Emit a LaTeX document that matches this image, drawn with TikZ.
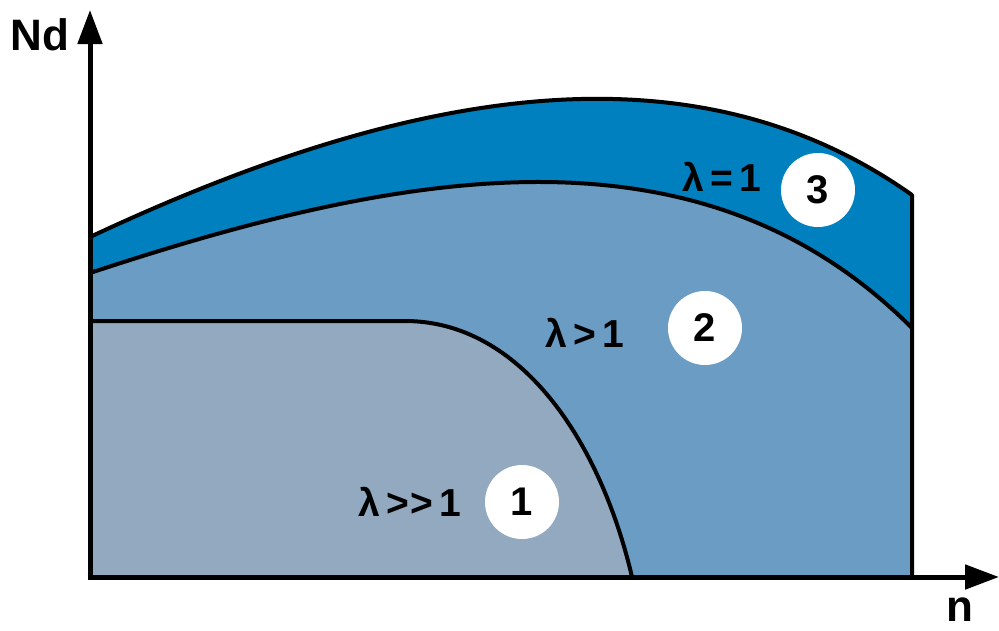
\documentclass[tikz,border=0pt]{standalone}
\usepackage{fontspec}
\setmainfont{Liberation Sans}
\usetikzlibrary{arrows.meta}
\definecolor{bandA}{RGB}{0,128,190}
\definecolor{bandB}{RGB}{106,156,196}
\definecolor{bandC}{RGB}{147,169,191}
\tikzset{
  curve/.style={line width=4pt, line join=round},
  axis/.style={line width=5pt, -{Triangle[length=34pt,width=24pt]}},
  lab/.style={font=\fontsize{39}{44}\selectfont\bfseries, inner sep=0pt},
  badge/.style={circle, fill=white, minimum size=74pt, inner sep=0pt, font=\fontsize{40}{44}\selectfont\bfseries},
}
\def\topcurve{(90,237) .. controls (410,87) and (692,39) .. (912,195)}
\def\midcurve{(90,273) .. controls (410,167) and (702,118) .. (912,328)}
\def\lowcurve{(90,321) -- (405,321) .. controls (520,321) and (600,440) .. (632,577)}
\begin{document}
\begin{tikzpicture}[x=1pt,y=-1pt]
\useasboundingbox (0,0) rectangle (999,630);
% regions
\fill[bandA] \topcurve -- (912,577) -- (90,577) -- cycle;
\fill[bandB] \midcurve -- (912,577) -- (90,577) -- cycle;
\fill[bandC] \lowcurve -- (90,577) -- cycle;
% boundary lines
\draw[curve] \topcurve -- (912,577);
\draw[curve] \midcurve;
\draw[curve] \lowcurve;
% axes
\coordinate (o) at (90,577);
\coordinate (ytip) at (90,10);
\coordinate (xtip) at (999,577);
\draw[axis] ([yshift=-2.5pt]o) -- (ytip);
\draw[axis] ([xshift=-2.5pt]o) -- (xtip);
\node[font=\fontsize{44}{48}\selectfont\bfseries, inner sep=0pt] (ylab) at (40,35) {Nd};
\node[font=\fontsize{44}{48}\selectfont\bfseries, inner sep=0pt] (xlab) at (960,610) {n};
% labels
\node[lab] (l3) at (722,177) {λ\,=\,1};
\node[badge] (b3) at (818,190) {3};
\node[lab] (l2) at (585,333) {λ\,>\,1};
\node[badge] (b2) at (705,328) {2};
\node[lab] (l1) at (410,502) {λ\,>\kern1pt>\,1};
\node[badge] (b1) at (522,502) {1};
\end{tikzpicture}
\end{document}
